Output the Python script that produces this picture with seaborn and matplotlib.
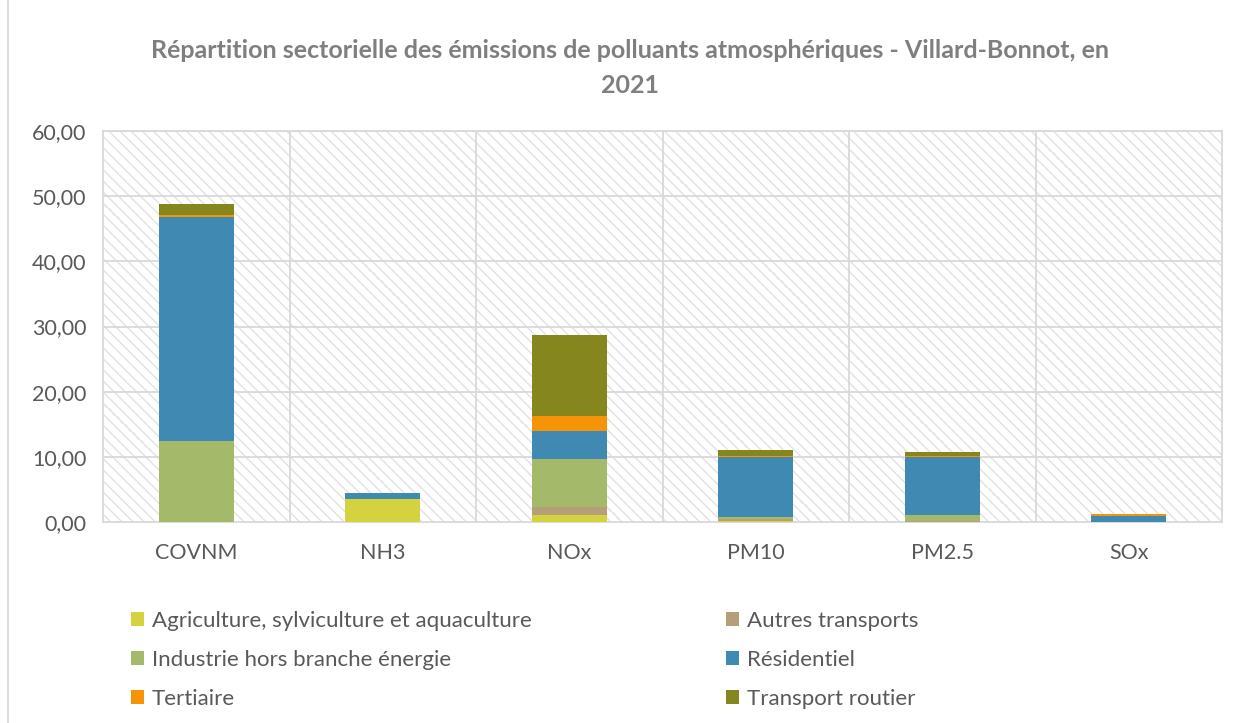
import matplotlib
matplotlib.use("Agg")
import matplotlib.pyplot as plt
from matplotlib.patches import Rectangle, Patch
from matplotlib.lines import Line2D
import numpy as np
import pandas as pd
import seaborn as sns

# Pollutants (x categories)
pollutants = ["COVNM", "NH3", "NOx", "PM10", "PM2.5", "SOx"]

# Emissions per sector, stacked bottom to top
agriculture = [0.00, 3.50, 1.10, 0.10, 0.05, 0.00]
autres_transports = [0.05, 0.00, 1.25, 0.35, 0.10, 0.00]
industrie = [12.40, 0.00, 7.25, 0.35, 1.00, 0.02]
residentiel = [34.30, 0.90, 4.40, 9.10, 8.80, 0.90]
tertiaire = [0.40, 0.00, 2.30, 0.30, 0.20, 0.25]
transport_routier = [1.70, 0.05, 12.40, 0.80, 0.60, 0.05]

sectors = [
    "Agriculture, sylviculture et aquaculture",
    "Autres transports",
    "Industrie hors branche énergie",
    "Résidentiel",
    "Tertiaire",
    "Transport routier",
]
colors = ["#d4d23f", "#b59f78", "#a5b96a", "#3f89b2", "#f59406", "#86861e"]

yticks = [0, 10, 20, 30, 40, 50, 60]
ytick_labels = ["0,00", "10,00", "20,00", "30,00", "40,00", "50,00", "60,00"]

title = "Répartition sectorielle des émissions de polluants atmosphériques - Villard-Bonnot, en\n2021"

sns.set_theme(style="white")
plt.rcParams["font.family"] = ["Lato", "DejaVu Sans"]
plt.rcParams["hatch.linewidth"] = 1.0

text_gray = "#595959"
grid_gray = "#d9d9d9"

values = pd.DataFrame(
    [agriculture, autres_transports, industrie, residentiel, tertiaire, transport_routier],
    index=sectors, columns=pollutants,
)
cumulative = values.cumsum(axis=0)

fig = plt.figure(figsize=(12.39, 7.23), dpi=100)
ax = fig.add_axes([103 / 1239, 201 / 723, 1119 / 1239, 391 / 723])

# Diagonal hatched background of the plot area
ax.add_patch(Rectangle((0, 0), 1, 1, transform=ax.transAxes, facecolor="white",
                       edgecolor="#e2e2e2", linewidth=0, hatch="\\\\\\", zorder=0))

# Draw cumulative layers from the top down so lower sectors overlay higher ones
for sector, color in reversed(list(zip(sectors, colors))):
    df = pd.DataFrame({"polluant": pollutants, "valeur": cumulative.loc[sector].values})
    sns.barplot(data=df, x="polluant", y="valeur", color=color, width=0.40,
                saturation=1, linewidth=0, ax=ax, zorder=3)

ax.set_xlim(-0.5, len(pollutants) - 0.5)
ax.set_ylim(0, 60)
ax.set_yticks(yticks)
ax.set_yticklabels(ytick_labels)
ax.set_xlabel("")
ax.set_ylabel("")

# Horizontal gridlines at each tick, vertical lines between categories
for y in yticks[1:]:
    ax.axhline(y, color=grid_gray, linewidth=1.3, zorder=1)
for xb in np.arange(0.5, len(pollutants) - 0.5, 1):
    ax.axvline(xb, color=grid_gray, linewidth=1.3, zorder=1)

for spine in ax.spines.values():
    spine.set_visible(True)
    spine.set_color(grid_gray)
    spine.set_linewidth(1.3)

ax.tick_params(axis="both", length=0, labelsize=15.5, labelcolor=text_gray)
ax.tick_params(axis="x", pad=15)
ax.tick_params(axis="y", pad=12)

fig.text(0.5085, 1 - 68 / 723, title, ha="center", va="center", fontsize=18,
         fontweight="bold", color="#7f7f7f", linespacing=1.6)

# Legend in two columns, filled column-wise
order = [0, 2, 4, 1, 3, 5]
handles = [Patch(facecolor=colors[i], edgecolor="none") for i in order]
labels = [sectors[i] for i in order]
leg = fig.legend(handles, labels, ncol=2, loc="upper left",
                 bbox_to_anchor=(113 / 1239, 1 - 593 / 723), frameon=False,
                 fontsize=16, labelcolor=text_gray, handlelength=0.6,
                 handleheight=0.6, handletextpad=0.35, columnspacing=8.75,
                 labelspacing=0.85, borderpad=0.3)

# Chart frame edge
fig.add_artist(Line2D([8 / 1239, 8 / 1239], [0, 1], transform=fig.transFigure,
                      color=grid_gray, linewidth=1.3))

fig.savefig("out.png", dpi=100)
